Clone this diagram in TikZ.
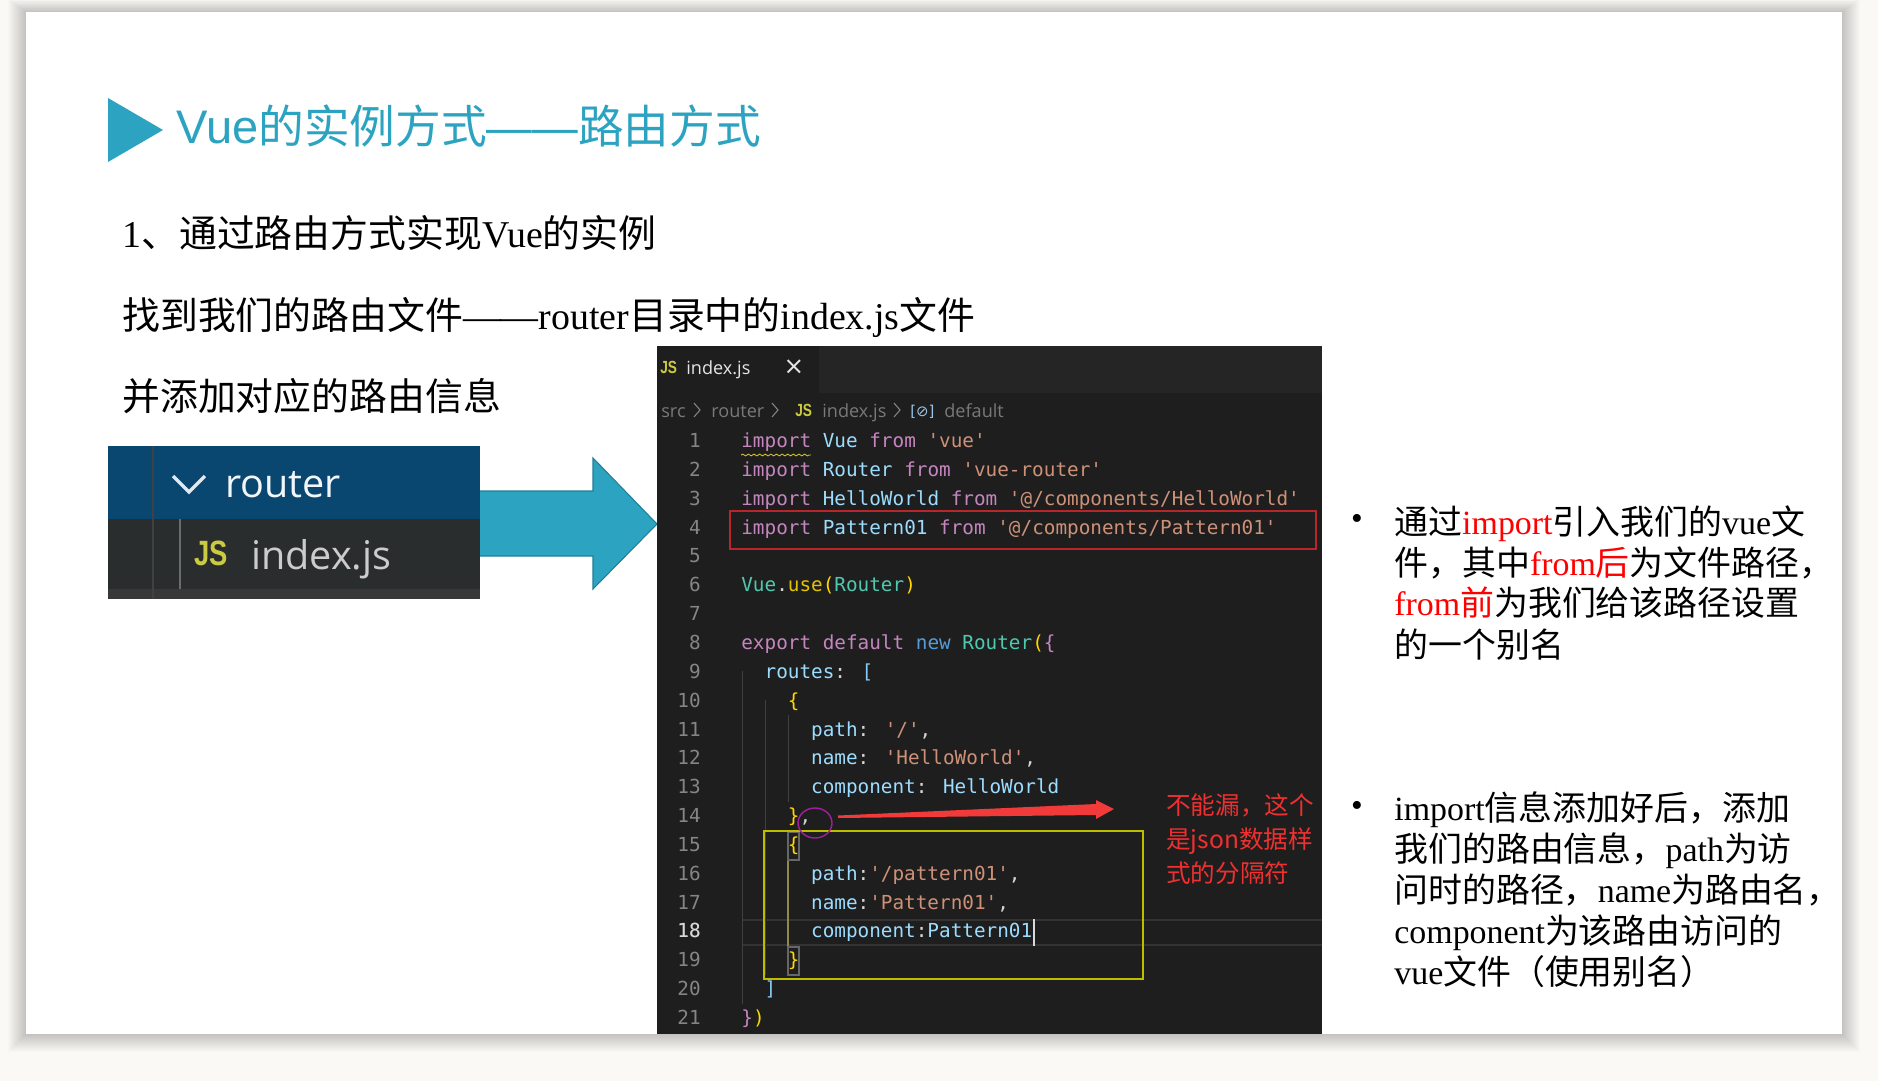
\documentclass[tikz,border=0pt]{standalone}
\usepackage{fontspec}
\usetikzlibrary{decorations.pathmorphing}
\setmainfont{Liberation Serif}
\setsansfont{Liberation Sans}
\newfontfamily\zhfont{Noto Sans CJK SC}
\newfontfamily\codefont{DejaVu Sans Mono}
\newfontfamily\uifont{Open Sans}
\newfontfamily\symfont{DejaVu Sans}
\newcommand{\zh}[1]{{\zhfont #1}}
\newcommand{\jsicon}[1]{{\sffamily\bfseries\fontsize{#1}{#1}\selectfont\scalebox{.78}[1]{JS}}}
\definecolor{pagebg}{HTML}{FAF9F5}
\definecolor{teal}{HTML}{2CA3C0}
\definecolor{tealdark}{HTML}{1F7F98}
\definecolor{panelblue}{HTML}{094771}
\definecolor{panelgrey}{HTML}{2A2D2E}
\definecolor{editorbg}{HTML}{1E1E1E}
\definecolor{tabbg}{HTML}{252526}
\definecolor{jsyellow}{HTML}{CBCB41}
\definecolor{ckw}{HTML}{C586C0}
\definecolor{cid}{HTML}{9CDCFE}
\definecolor{cstr}{HTML}{CE9178}
\definecolor{cty}{HTML}{4EC9B0}
\definecolor{cnew}{HTML}{569CD6}
\definecolor{cpar}{HTML}{FFD700}
\definecolor{cnum}{HTML}{858585}
\definecolor{cplain}{HTML}{D4D4D4}
\definecolor{markred}{HTML}{F03030}
\definecolor{boxred}{HTML}{B8262B}
\definecolor{boxyellow}{HTML}{BDBD00}
\definecolor{ringpurple}{HTML}{A020A0}
\newcommand{\kw}[1]{\textcolor{ckw}{#1}}
\newcommand{\nm}[1]{\textcolor{cid}{#1}}
\newcommand{\qs}[1]{\textcolor{cstr}{#1}}
\newcommand{\ty}[1]{\textcolor{cty}{#1}}
\newcommand{\codeat}[3]{\node[codeline] (code#1) at ({741+#2*11.63},{447.5+(#1-1)*28.85}) {#3};}
\tikzset{
	bodyline/.style={anchor=base west,inner sep=0pt,font=\fontsize{21.55}{24}\selectfont},
	noteline/.style={anchor=base west,inner sep=0pt,font=\fontsize{19.3}{23}\selectfont},
	tipline/.style={anchor=base west,inner sep=0pt,text=markred,font=\fontsize{14}{17}\selectfont},
	codeline/.style={anchor=base west,inner sep=0pt,text=cplain,font=\codefont\fontsize{11}{13}\selectfont},
	numline/.style={anchor=base east,inner sep=0pt,text=cnum,font=\codefont\fontsize{11}{13}\selectfont},
	crumb/.style={anchor=base west,inner sep=0pt,text=cnum!110,font=\uifont\fontsize{10.3}{12}\selectfont},
	crumbmark/.style={draw=cnum,line width=.6pt},
	guide/.style={draw=white!25!black,line width=.5pt},
}
\begin{document}
\begin{tikzpicture}[x=0.02cm,y=-0.02cm]
	\useasboundingbox (0,0) rectangle (1878,1081);
	\fill[pagebg] (0,0) rectangle (1878,1081);
	\foreach \d in {18,17,...,1}
		\fill[black,opacity=.011] (26-\d,12-.7*\d) rectangle (1842+\d,1034+\d);
	\fill[white] (26,12) rectangle (1842,1034);

	\fill[teal] (108,98) -- (163,130) -- (108,162) -- cycle;
	\node[anchor=base west,inner sep=0pt,text=teal,font=\sffamily\fontsize{26}{30}\selectfont] (title) at (176,144) {{\fontsize{26.8}{30}\selectfont Vue}\zh{的实例方式}——\zh{路由方式}};

	\node[bodyline] (first) at (122,247) {1\zh{、通过路由方式实现}Vue\zh{的实例}};
	\node[bodyline] (second) at (122,329) {\zh{找到我们的路由文件}——router\zh{目录中的}index.js\zh{文件}};
	\node[bodyline] (third) at (122,410) {\zh{并添加对应的路由信息}};

	\fill[panelblue] (108,446) rectangle (480,519);
	\fill[panelgrey] (108,519) rectangle (480,599);
	\fill[black!78] (108,589) rectangle (480,599);
	\draw[white!10!panelgrey,line width=.8pt] (153,446) -- (153,599);
	\draw[white!30!panelgrey,line width=1pt] (180,519) -- (180,589);
	\draw[white!88!panelblue,line width=2pt] (173,476) -- (189,492) -- (205,476);
	\node[anchor=base west,inner sep=0pt,text=white!95!panelblue,font=\uifont\fontsize{22.5}{26}\selectfont] (folder) at (225,497) {router};
	\node[anchor=base west,inner sep=0pt,text=jsyellow] (jsbig) at (194,565) {\jsicon{20}};
	\node[anchor=base west,inner sep=0pt,text=white!80!black,font=\uifont\fontsize{22.5}{26}\selectfont] (file) at (251,569) {index.js};

	\draw[tealdark,fill=teal,line width=.6pt] (480,491) -- (593,491) -- (593,458) -- (657,524) -- (593,589) -- (593,556) -- (480,556);

	\fill[editorbg] (657,346) rectangle (1322,1034);
	\fill[tabbg] (819,346) rectangle (1322,393);
	\node[anchor=base west,inner sep=0pt,text=jsyellow] (jstab) at (660,373) {\jsicon{10}};
	\node[crumb,text=white!90!black] (tab) at (686,374) {index.js};
	\node[anchor=center,inner sep=0pt,text=white!90!black,font=\symfont\fontsize{14}{16}\selectfont] (close) at (794,367) {×};

	\node[crumb] (src) at (661,417) {src};
	\draw[crumbmark] (694,403) -- (700,410) -- (694,417);
	\node[crumb] (dir) at (711,417) {router};
	\draw[crumbmark] (772,403) -- (778,410) -- (772,417);
	\node[anchor=base west,inner sep=0pt,text=jsyellow] (jscrumb) at (795,416) {\jsicon{10}};
	\node[crumb] (crumbfile) at (822,417) {index.js};
	\draw[crumbmark] (894,403) -- (900,410) -- (894,417);
	\node[anchor=base west,inner sep=0pt,text=cnew!60!white,font=\symfont\fontsize{8.5}{10}\selectfont] (sym) at (910,416) {[⊘]};
	\node[crumb] (crumbdef) at (944,417) {default};

	\draw[guide] (742,671) -- (742,1004);
	\draw[guide] (765,700) -- (765,975);
	\draw[guide] (788,715) -- (788,802);
	\draw[white!20!black,line width=.7pt] (743,920) -- (1322,920) (743,945) -- (1322,945);
	\draw[yellow!50!black,line width=1pt] (788,860) -- (788,947);
	\draw[white!40!black,line width=.7pt] (788,832) rectangle (799,860);
	\draw[white!40!black,line width=.7pt] (788,947) rectangle (799,975);

	\foreach \n in {1,...,21}
		\node[numline] (num\n) at (701,{447.5+(\n-1)*28.85}) {\n};
	\node[numline,text=white!85!black] at (701,{447.5+17*28.85}) {18};

	\codeat{1}{0}{\kw{import} \nm{Vue} \kw{from} \qs{'vue'}}
	\codeat{2}{0}{\kw{import} \nm{Router} \kw{from} \qs{'vue-router'}}
	\codeat{3}{0}{\kw{import} \nm{HelloWorld} \kw{from} \qs{'@/components/HelloWorld'}}
	\codeat{4}{0}{\kw{import} \nm{Pattern01} \kw{from} \qs{'@/components/Pattern01'}}
	\codeat{6}{0}{\ty{Vue}.\textcolor{cpar!90!black}{use}\textcolor{cpar}{(}\ty{Router}\textcolor{cpar}{)}}
	\codeat{8}{0}{\kw{export default} \textcolor{cnew}{new} \ty{Router}\textcolor{cpar}{(}\textcolor{ckw}{\{}}
	\codeat{9}{2}{\nm{routes}: \textcolor{cid!70!cnew}{[}}
	\codeat{10}{4}{\textcolor{cpar}{\{}}
	\codeat{11}{6}{\nm{path}: \qs{'/'},}
	\codeat{12}{6}{\nm{name}: \qs{'HelloWorld'},}
	\codeat{13}{6}{\nm{component}: \nm{HelloWorld}}
	\codeat{14}{4}{\textcolor{cpar}{\}},}
	\codeat{15}{4}{\textcolor{cpar}{\{}}
	\codeat{16}{6}{\nm{path}:\qs{'/pattern01'},}
	\codeat{17}{6}{\nm{name}:\qs{'Pattern01'},}
	\codeat{18}{6}{\nm{component}:\nm{Pattern01}}
	\codeat{19}{4}{\textcolor{cpar}{\}}}
	\codeat{20}{2}{\textcolor{cid!70!cnew}{]}}
	\codeat{21}{0}{\textcolor{ckw}{\}}\textcolor{cpar}{)}}

	\draw[jsyellow!85!orange,line width=.5pt,decorate,decoration={snake,amplitude=.5pt,segment length=3.2pt}] (741,455) -- (811,455);
	\draw[white!85!black,line width=.8pt] (1034,919) -- (1034,946);

	\draw[boxred,line width=1pt] (730,511) rectangle (1316,549);
	\draw[boxyellow,line width=1pt] (764,831) rectangle (1143,979);
	\draw[ringpurple,line width=.8pt] (815,823) ellipse (17 and 15);
	\fill[markred!95!white] (838,815.5) -- (1096,804) -- (1096,800) -- (1114,809) -- (1096,819) -- (1096,815) -- (838,818) -- cycle;

	\node[tipline] (tipa) at (1166,814) {\zh{不能漏，这个}};
	\node[tipline] (tipb) at (1166,848) {\zh{是json数据样}};
	\node[tipline] (tipc) at (1166,882) {\zh{式的分隔符}};

	\node[inner sep=0pt,font=\fontsize{19}{23}\selectfont] (dota) at (1357,522) {•};
	\node[noteline] (notea) at (1394,534) {\zh{通过}\textcolor{red}{import}\zh{引入我们的}vue\zh{文}};
	\node[noteline] (noteb) at (1394,575) {\zh{件，其中}\textcolor{red}{from\zh{后}}\zh{为文件路径，}};
	\node[noteline] (notec) at (1394,615) {\textcolor{red}{from\zh{前}}\zh{为我们给该路径设置}};
	\node[noteline] (noted) at (1394,657) {\zh{的一个别名}};

	\node[inner sep=0pt,font=\fontsize{19}{23}\selectfont] (dotb) at (1357,809) {•};
	\node[noteline] (notee) at (1394,820) {import\zh{信息添加好后，添加}};
	\node[noteline] (notef) at (1394,861) {\zh{我们的路由信息，}path\zh{为访}};
	\node[noteline] (noteg) at (1394,902) {\zh{问时的路径，}name\zh{为路由名，}};
	\node[noteline] (noteh) at (1394,943) {component\zh{为该路由访问的}};
	\node[noteline] (notei) at (1394,984) {vue\zh{文件（使用别名）}};
\end{tikzpicture}
\end{document}
